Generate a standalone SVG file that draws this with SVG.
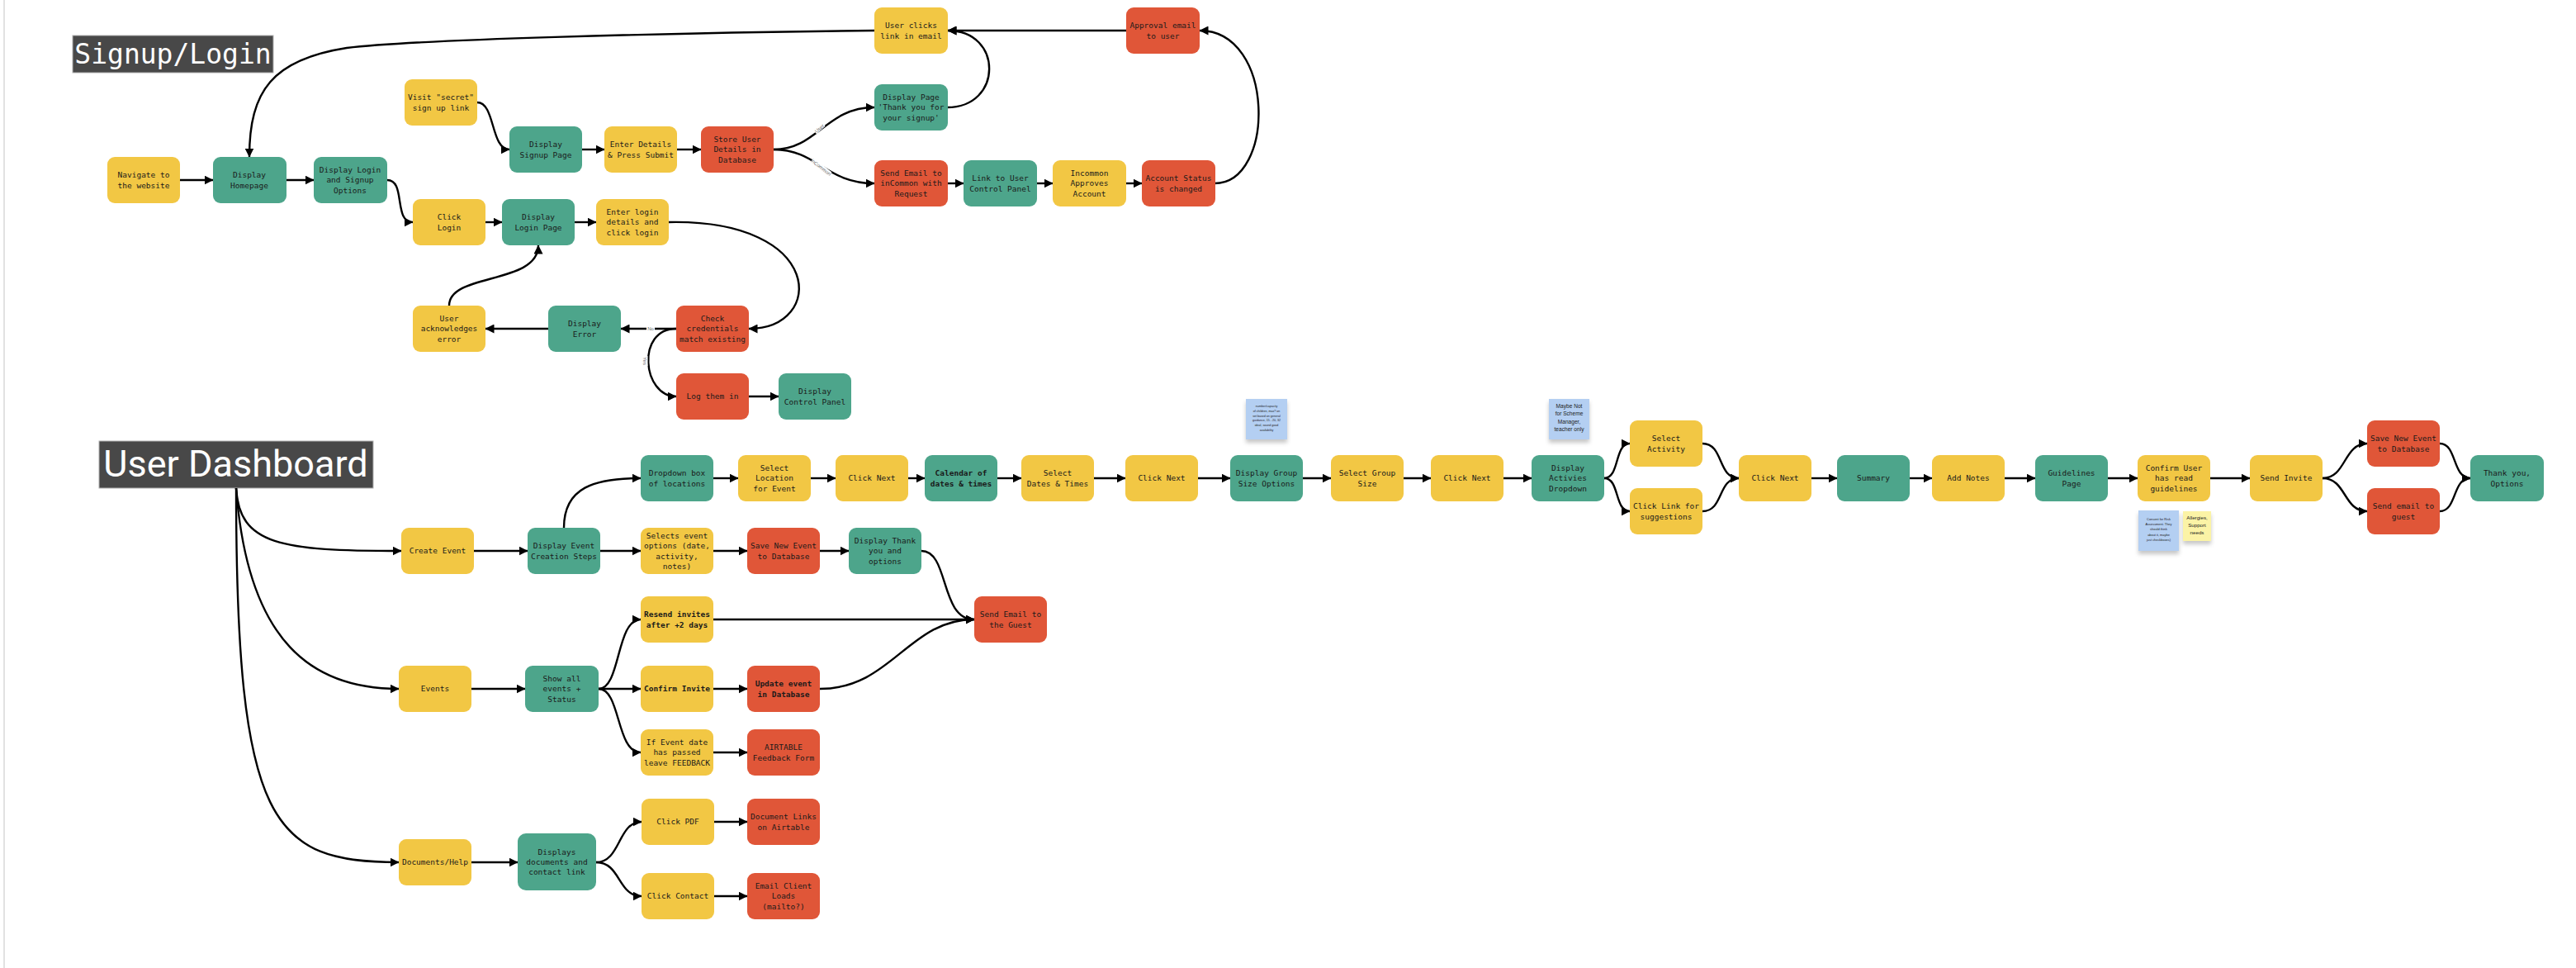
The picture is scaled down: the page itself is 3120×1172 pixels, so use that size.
<svg xmlns="http://www.w3.org/2000/svg" width="3120" height="1172" viewBox="0 0 3120 1172">
<style>
.y{fill:#F2C744}.g{fill:#4DA58B}.r{fill:#E05638}
.t{font-family:"DejaVu Sans Mono","Liberation Mono",monospace;font-size:9.5px;fill:#1a1a1a;text-anchor:middle}
.b{font-weight:bold}
.e{fill:none;stroke:#000;stroke-width:2.4;marker-end:url(#a)}
.lbl{font-family:"Liberation Sans",Arial,sans-serif;font-size:6px;fill:#666;text-anchor:middle}
.st{font-family:"Liberation Sans",Arial,sans-serif;fill:#222;text-anchor:middle}
.ttl{fill:#484848;stroke:#b0b0b0;stroke-width:1}
</style>
<defs>
<marker id="a" markerUnits="userSpaceOnUse" markerWidth="11" markerHeight="11" refX="10.5" refY="5.5" orient="auto"><path d="M0,0 L11,5.5 L0,11 z" fill="#000"/></marker>
<filter id="sh" x="-20%" y="-20%" width="140%" height="160%"><feDropShadow dx="0" dy="4" stdDeviation="2.5" flood-color="#000" flood-opacity="0.22"/></filter>
</defs>
<rect width="3120" height="1172" fill="#fff"/>
<rect x="4" y="0" width="2" height="1172" fill="#e2e2e2"/>

<g id="title-signup"><rect class="ttl" x="88" y="43" width="243" height="45"/><text x="209.5" y="77" font-family="DejaVu Sans Mono, monospace" font-size="33" fill="#fff" text-anchor="middle">Signup/Login</text></g>
<g id="title-dashboard"><rect class="ttl" x="120" y="534" width="332" height="57"/><text x="285.5" y="577" font-family="Roboto, sans-serif" font-size="45" fill="#fff" text-anchor="middle">User Dashboard</text></g>

<g id="connectors">
<path class="e" d="M218,218 L258,218"/>
<path class="e" d="M347,218 L380,218"/>
<path class="e" d="M469,218 C492,218 476,269 500,269"/>
<path class="e" d="M578,124 C600,124 594,181 617,181"/>
<path class="e" d="M705,181 L732,181"/>
<path class="e" d="M820,181 L849,181"/>
<path class="e" d="M937,181 C990,181 1000,130 1059,130"/>
<path class="e" d="M937,181 C990,181 1000,222 1059,222"/>
<path class="e" d="M1147,222 L1167,222"/>
<path class="e" d="M1255,222 L1275,222"/>
<path class="e" d="M1363,222 L1383,222"/>
<path class="e" d="M1471,222 C1545,222 1545,37 1453,37"/>
<path class="e" d="M1364,37 L1148,37"/>
<path class="e" d="M1147,130 C1215,130 1215,37 1148,37"/>
<path class="e" d="M1059,37 C800,40 500,48 420,58 C330,72 302,110 302,190"/>
<path class="e" d="M588,269 L608,269"/>
<path class="e" d="M696,269 L722,269"/>
<path class="e" d="M810,269 C1000,265 1000,398 907,398"/>
<path class="e" d="M819,398 L752,398"/>
<path class="e" d="M819,398 C770,398 778,480 819,480"/>
<path class="e" d="M907,480 L943,480"/>
<path class="e" d="M664,398 L588,398"/>
<path class="e" d="M544,370 C544,330 652,345 652,297"/>

<path class="e" d="M286,591 C290,660 340,667 486,667"/>
<path class="e" d="M286,591 C300,780 380,834 483,834"/>
<path class="e" d="M286,591 C286,1000 330,1044 483,1044"/>
<path class="e" d="M574,667 L639,667"/>
<path class="e" d="M683,639 C683,590 720,579 776,579"/>
<path class="e" d="M727,667 L776,667"/>
<path class="e" d="M864,579 L894,579"/>
<path class="e" d="M982,579 L1012,579"/>
<path class="e" d="M1100,579 L1120,579"/>
<path class="e" d="M1208,579 L1237,579"/>
<path class="e" d="M1325,579 L1363,579"/>
<path class="e" d="M1451,579 L1490,579"/>
<path class="e" d="M1578,579 L1612,579"/>
<path class="e" d="M1700,579 L1733,579"/>
<path class="e" d="M1821,579 L1855,579"/>
<path class="e" d="M1943,579 C1962,579 1955,537 1974,537"/>
<path class="e" d="M1943,579 C1962,579 1955,619 1974,619"/>
<path class="e" d="M2062,537 C2088,537 2080,579 2106,579"/>
<path class="e" d="M2062,619 C2088,619 2080,579 2106,579"/>
<path class="e" d="M2194,579 L2225,579"/>
<path class="e" d="M2313,579 L2340,579"/>
<path class="e" d="M2428,579 L2465,579"/>
<path class="e" d="M2553,579 L2589,579"/>
<path class="e" d="M2677,579 L2725,579"/>
<path class="e" d="M2813,579 C2842,579 2838,537 2867,537"/>
<path class="e" d="M2813,579 C2842,579 2838,619 2867,619"/>
<path class="e" d="M2955,537 C2976,537 2970,579 2992,579"/>
<path class="e" d="M2955,619 C2976,619 2970,579 2992,579"/>
<path class="e" d="M864,667 L905,667"/>
<path class="e" d="M993,667 L1028,667"/>
<path class="e" d="M1116,667 C1150,667 1138,750 1180,750"/>
<path class="e" d="M864,750 L1180,750"/>
<path class="e" d="M993,834 C1080,834 1100,750 1180,750"/>
<path class="e" d="M571,834 L636,834"/>
<path class="e" d="M725,834 C752,834 746,750 776,750"/>
<path class="e" d="M725,834 L776,834"/>
<path class="e" d="M725,834 C752,834 746,911 776,911"/>
<path class="e" d="M864,834 L905,834"/>
<path class="e" d="M864,911 L905,911"/>
<path class="e" d="M571,1044 L627,1044"/>
<path class="e" d="M722,1044 C752,1044 748,995 777,995"/>
<path class="e" d="M722,1044 C752,1044 748,1085 777,1085"/>
<path class="e" d="M865,995 L905,995"/>
<path class="e" d="M865,1085 L905,1085"/>

<g transform="translate(993,156) rotate(-42)"><rect x="-7" y="-4" width="14" height="6" fill="#fff"/><text class="lbl" x="0" y="1.5">User</text></g>
<g transform="translate(994,203) rotate(38)"><rect x="-14" y="-4" width="28" height="6" fill="#fff"/><text class="lbl" x="0" y="1.5">inCommon</text></g>
<g transform="translate(788,398)"><rect x="-5" y="-3.5" width="10" height="6" fill="#fff"/><text class="lbl" x="0" y="2">No</text></g>
<g transform="translate(781,437) rotate(90)"><rect x="-6" y="-3.5" width="12" height="6" fill="#fff"/><text class="lbl" x="0" y="2">Yes</text></g>
</g>

<g id="n_navigate"><rect class="y" x="130" y="190" width="88" height="56" rx="9"/><text class="t" x="174" y="215.2">Navigate to<tspan x="174" dy="12.4">the website</tspan></text></g>
<g id="n_homepage"><rect class="g" x="258" y="190" width="89" height="56" rx="9"/><text class="t" x="302" y="215.2">Display<tspan x="302" dy="12.4">Homepage</tspan></text></g>
<g id="n_loginopts"><rect class="g" x="380" y="190" width="89" height="56" rx="9"/><text class="t" x="424" y="209">Display Login<tspan x="424" dy="12.4">and Signup</tspan><tspan x="424" dy="12.4">Options</tspan></text></g>
<g id="n_visit"><rect class="y" x="490" y="96" width="88" height="56" rx="9"/><text class="t" x="534" y="121.2">Visit "secret"<tspan x="534" dy="12.4">sign up link</tspan></text></g>
<g id="n_clicklogin"><rect class="y" x="500" y="241" width="88" height="56" rx="9"/><text class="t" x="544" y="266.2">Click<tspan x="544" dy="12.4">Login</tspan></text></g>
<g id="n_signuppage"><rect class="g" x="617" y="153" width="88" height="56" rx="9"/><text class="t" x="661" y="178.2">Display<tspan x="661" dy="12.4">Signup Page</tspan></text></g>
<g id="n_enterdetails"><rect class="y" x="732" y="153" width="88" height="56" rx="9"/><text class="t" x="776" y="178.2">Enter Details<tspan x="776" dy="12.4">&amp; Press Submit</tspan></text></g>
<g id="n_store"><rect class="r" x="849" y="153" width="88" height="56" rx="9"/><text class="t" x="893" y="172">Store User<tspan x="893" dy="12.4">Details in</tspan><tspan x="893" dy="12.4">Database</tspan></text></g>
<g id="n_thankyou"><rect class="g" x="1059" y="102" width="89" height="56" rx="9"/><text class="t" x="1103.5" y="121">Display Page<tspan x="1103.5" dy="12.4">'Thank you for</tspan><tspan x="1103.5" dy="12.4">your signup'</tspan></text></g>
<g id="n_sendemail"><rect class="r" x="1059" y="194" width="89" height="56" rx="9"/><text class="t" x="1103.5" y="213">Send Email to<tspan x="1103.5" dy="12.4">inCommon with</tspan><tspan x="1103.5" dy="12.4">Request</tspan></text></g>
<g id="n_link"><rect class="g" x="1167" y="194" width="89" height="56" rx="9"/><text class="t" x="1211.5" y="219.2">Link to User<tspan x="1211.5" dy="12.4">Control Panel</tspan></text></g>
<g id="n_approves"><rect class="y" x="1275" y="194" width="89" height="56" rx="9"/><text class="t" x="1319.5" y="213">Incommon<tspan x="1319.5" dy="12.4">Approves</tspan><tspan x="1319.5" dy="12.4">Account</tspan></text></g>
<g id="n_status"><rect class="r" x="1383" y="194" width="89" height="56" rx="9"/><text class="t" x="1427.5" y="219.2">Account Status<tspan x="1427.5" dy="12.4">is changed</tspan></text></g>
<g id="n_userclicks"><rect class="y" x="1059" y="9" width="89" height="56" rx="9"/><text class="t" x="1103.5" y="34.2">User clicks<tspan x="1103.5" dy="12.4">link in email</tspan></text></g>
<g id="n_approval"><rect class="r" x="1364" y="9" width="89" height="56" rx="9"/><text class="t" x="1408.5" y="34.2">Approval email<tspan x="1408.5" dy="12.4">to user</tspan></text></g>
<g id="n_loginpage"><rect class="g" x="608" y="241" width="88" height="56" rx="9"/><text class="t" x="652" y="266.2">Display<tspan x="652" dy="12.4">Login Page</tspan></text></g>
<g id="n_enterlogin"><rect class="y" x="722" y="241" width="88" height="56" rx="9"/><text class="t" x="766" y="260">Enter login<tspan x="766" dy="12.4">details and</tspan><tspan x="766" dy="12.4">click login</tspan></text></g>
<g id="n_check"><rect class="r" x="819" y="370" width="88" height="56" rx="9"/><text class="t" x="863" y="389">Check<tspan x="863" dy="12.4">credentials</tspan><tspan x="863" dy="12.4">match existing</tspan></text></g>
<g id="n_error"><rect class="g" x="664" y="370" width="88" height="56" rx="9"/><text class="t" x="708" y="395.2">Display<tspan x="708" dy="12.4">Error</tspan></text></g>
<g id="n_ack"><rect class="y" x="500" y="370" width="88" height="56" rx="9"/><text class="t" x="544" y="389">User<tspan x="544" dy="12.4">acknowledges</tspan><tspan x="544" dy="12.4">error</tspan></text></g>
<g id="n_logthemin"><rect class="r" x="819" y="452" width="88" height="56" rx="9"/><text class="t" x="863" y="483.4">Log them in</text></g>
<g id="n_controlpanel"><rect class="g" x="943" y="452" width="88" height="56" rx="9"/><text class="t" x="987" y="477.2">Display<tspan x="987" dy="12.4">Control Panel</tspan></text></g>

<g id="n_create"><rect class="y" x="486" y="639" width="88" height="56" rx="9"/><text class="t" x="530" y="670.4">Create Event</text></g>
<g id="n_creationsteps"><rect class="g" x="639" y="639" width="88" height="56" rx="9"/><text class="t" x="683" y="664.2">Display Event<tspan x="683" dy="12.4">Creation Steps</tspan></text></g>
<g id="n_dropdown"><rect class="g" x="776" y="551" width="88" height="56" rx="9"/><text class="t" x="820" y="576.2">Dropdown box<tspan x="820" dy="12.4">of locations</tspan></text></g>
<g id="n_selectloc"><rect class="y" x="894" y="551" width="88" height="56" rx="9"/><text class="t" x="938" y="570">Select<tspan x="938" dy="12.4">Location</tspan><tspan x="938" dy="12.4">for Event</tspan></text></g>
<g id="n_next1"><rect class="y" x="1012" y="551" width="88" height="56" rx="9"/><text class="t" x="1056" y="582.4">Click Next</text></g>
<g id="n_calendar"><rect class="g" x="1120" y="551" width="88" height="56" rx="9"/><text class="t b" x="1164" y="576.2">Calendar of<tspan x="1164" dy="12.4">dates &amp; times</tspan></text></g>
<g id="n_selectdates"><rect class="y" x="1237" y="551" width="88" height="56" rx="9"/><text class="t" x="1281" y="576.2">Select<tspan x="1281" dy="12.4">Dates &amp; Times</tspan></text></g>
<g id="n_next2"><rect class="y" x="1363" y="551" width="88" height="56" rx="9"/><text class="t" x="1407" y="582.4">Click Next</text></g>
<g id="n_groupopts"><rect class="g" x="1490" y="551" width="88" height="56" rx="9"/><text class="t" x="1534" y="576.2">Display Group<tspan x="1534" dy="12.4">Size Options</tspan></text></g>
<g id="n_groupsize"><rect class="y" x="1612" y="551" width="88" height="56" rx="9"/><text class="t" x="1656" y="576.2">Select Group<tspan x="1656" dy="12.4">Size</tspan></text></g>
<g id="n_next3"><rect class="y" x="1733" y="551" width="88" height="56" rx="9"/><text class="t" x="1777" y="582.4">Click Next</text></g>
<g id="n_activities"><rect class="g" x="1855" y="551" width="88" height="56" rx="9"/><text class="t" x="1899" y="570">Display<tspan x="1899" dy="12.4">Activies</tspan><tspan x="1899" dy="12.4">Dropdown</tspan></text></g>
<g id="n_selectact"><rect class="y" x="1974" y="509" width="88" height="56" rx="9"/><text class="t" x="2018" y="534.2">Select<tspan x="2018" dy="12.4">Activity</tspan></text></g>
<g id="n_suggest"><rect class="y" x="1974" y="591" width="88" height="56" rx="9"/><text class="t" x="2018" y="616.2">Click Link for<tspan x="2018" dy="12.4">suggestions</tspan></text></g>
<g id="n_next4"><rect class="y" x="2106" y="551" width="88" height="56" rx="9"/><text class="t" x="2150" y="582.4">Click Next</text></g>
<g id="n_summary"><rect class="g" x="2225" y="551" width="88" height="56" rx="9"/><text class="t" x="2269" y="582.4">Summary</text></g>
<g id="n_notes"><rect class="y" x="2340" y="551" width="88" height="56" rx="9"/><text class="t" x="2384" y="582.4">Add Notes</text></g>
<g id="n_guidelines"><rect class="g" x="2465" y="551" width="88" height="56" rx="9"/><text class="t" x="2509" y="576.2">Guidelines<tspan x="2509" dy="12.4">Page</tspan></text></g>
<g id="n_confirmuser"><rect class="y" x="2589" y="551" width="88" height="56" rx="9"/><text class="t" x="2633" y="570">Confirm User<tspan x="2633" dy="12.4">has read</tspan><tspan x="2633" dy="12.4">guidelines</tspan></text></g>
<g id="n_sendinvite"><rect class="y" x="2725" y="551" width="88" height="56" rx="9"/><text class="t" x="2769" y="582.4">Send Invite</text></g>
<g id="n_saveevent2"><rect class="r" x="2867" y="509" width="88" height="56" rx="9"/><text class="t" x="2911" y="534.2">Save New Event<tspan x="2911" dy="12.4">to Database</tspan></text></g>
<g id="n_emailguest"><rect class="r" x="2867" y="591" width="88" height="56" rx="9"/><text class="t" x="2911" y="616.2">Send email to<tspan x="2911" dy="12.4">guest</tspan></text></g>
<g id="n_thanksopts"><rect class="g" x="2992" y="551" width="89" height="56" rx="9"/><text class="t" x="3036.5" y="576.2">Thank you,<tspan x="3036.5" dy="12.4">Options</tspan></text></g>
<g id="n_selects"><rect class="y" x="776" y="639" width="88" height="56" rx="9"/><text class="t" x="820" y="651.8">Selects event<tspan x="820" dy="12.4">options (date,</tspan><tspan x="820" dy="12.4">activity,</tspan><tspan x="820" dy="12.4">notes)</tspan></text></g>
<g id="n_saveevent"><rect class="r" x="905" y="639" width="88" height="56" rx="9"/><text class="t" x="949" y="664.2">Save New Event<tspan x="949" dy="12.4">to Database</tspan></text></g>
<g id="n_thankopts"><rect class="g" x="1028" y="639" width="88" height="56" rx="9"/><text class="t" x="1072" y="658">Display Thank<tspan x="1072" dy="12.4">you and</tspan><tspan x="1072" dy="12.4">options</tspan></text></g>
<g id="n_emailguest2"><rect class="r" x="1180" y="722" width="88" height="56" rx="9"/><text class="t" x="1224" y="747.2">Send Email to<tspan x="1224" dy="12.4">the Guest</tspan></text></g>
<g id="n_events"><rect class="y" x="483" y="806" width="88" height="56" rx="9"/><text class="t" x="527" y="837.4">Events</text></g>
<g id="n_showall"><rect class="g" x="636" y="806" width="89" height="56" rx="9"/><text class="t" x="680.5" y="825">Show all<tspan x="680.5" dy="12.4">events +</tspan><tspan x="680.5" dy="12.4">Status</tspan></text></g>
<g id="n_resend"><rect class="y" x="776" y="722" width="88" height="56" rx="9"/><text class="t b" x="820" y="747.2">Resend invites<tspan x="820" dy="12.4">after +2 days</tspan></text></g>
<g id="n_confirminvite"><rect class="y" x="776" y="806" width="88" height="56" rx="9"/><text class="t b" x="820" y="837.4">Confirm Invite</text></g>
<g id="n_update"><rect class="r" x="905" y="806" width="88" height="56" rx="9"/><text class="t b" x="949" y="831.2">Update event<tspan x="949" dy="12.4">in Database</tspan></text></g>
<g id="n_feedback"><rect class="y" x="776" y="883" width="88" height="56" rx="9"/><text class="t" x="820" y="902">If Event date<tspan x="820" dy="12.4">has passed</tspan><tspan x="820" dy="12.4">leave FEEDBACK</tspan></text></g>
<g id="n_airtable"><rect class="r" x="905" y="883" width="88" height="56" rx="9"/><text class="t" x="949" y="908.2">AIRTABLE<tspan x="949" dy="12.4">Feedback Form</tspan></text></g>
<g id="n_docs"><rect class="y" x="483" y="1016" width="88" height="56" rx="9"/><text class="t" x="527" y="1047.4">Documents/Help</text></g>
<g id="n_displaydocs"><rect class="g" x="627" y="1009" width="95" height="69" rx="10"/><text class="t" x="674.5" y="1034.5">Displays<tspan x="674.5" dy="12.4">documents and</tspan><tspan x="674.5" dy="12.4">contact link</tspan></text></g>
<g id="n_pdf"><rect class="y" x="777" y="967" width="88" height="56" rx="9"/><text class="t" x="821" y="998.4">Click PDF</text></g>
<g id="n_doclinks"><rect class="r" x="905" y="967" width="88" height="56" rx="9"/><text class="t" x="949" y="992.2">Document Links<tspan x="949" dy="12.4">on Airtable</tspan></text></g>
<g id="n_contact"><rect class="y" x="777" y="1057" width="88" height="56" rx="9"/><text class="t" x="821" y="1088.4">Click Contact</text></g>
<g id="n_mailto"><rect class="r" x="905" y="1057" width="88" height="56" rx="9"/><text class="t" x="949" y="1076">Email Client<tspan x="949" dy="12.4">Loads</tspan><tspan x="949" dy="12.4">(mailto?)</tspan></text></g>

<g id="sticky1"><rect x="1509" y="483" width="50" height="49" fill="#B4CFF2" filter="url(#sh)"/><text class="st" font-size="3.6" x="1534" y="493">number/capacity<tspan x="1534" dy="5.8">of children, max? on</tspan><tspan x="1534" dy="5.8">set based on general</tspan><tspan x="1534" dy="5.8">guidance, 15 - 20, 32</tspan><tspan x="1534" dy="5.8">ideal, sound good</tspan><tspan x="1534" dy="5.8">availability</tspan></text></g>
<g id="sticky2"><rect x="1876" y="483" width="49" height="49" fill="#B4CFF2" filter="url(#sh)"/><text class="st" font-size="6.6" x="1900.5" y="494">Maybe Not<tspan x="1900.5" dy="9.4">for Scheme</tspan><tspan x="1900.5" dy="9.4">Manager,</tspan><tspan x="1900.5" dy="9.4">teacher only</tspan></text></g>
<g id="sticky3"><rect x="2590" y="618" width="49" height="49" fill="#B4CFF2" filter="url(#sh)"/><text class="st" font-size="3.9" x="2614.5" y="629.8">Consent for Risk<tspan x="2614.5" dy="6.3">Assessment. They</tspan><tspan x="2614.5" dy="6.3">should think</tspan><tspan x="2614.5" dy="6.3">about it, maybe</tspan><tspan x="2614.5" dy="6.3">just checkboxes)</tspan></text></g>
<g id="sticky4"><rect x="2644" y="619" width="34" height="36" fill="#FBF3A6" filter="url(#sh)"/><text class="st" font-size="6.2" x="2661" y="629">Allergies,<tspan x="2661" dy="9">Support</tspan><tspan x="2661" dy="9">needs</tspan></text></g>
</svg>
